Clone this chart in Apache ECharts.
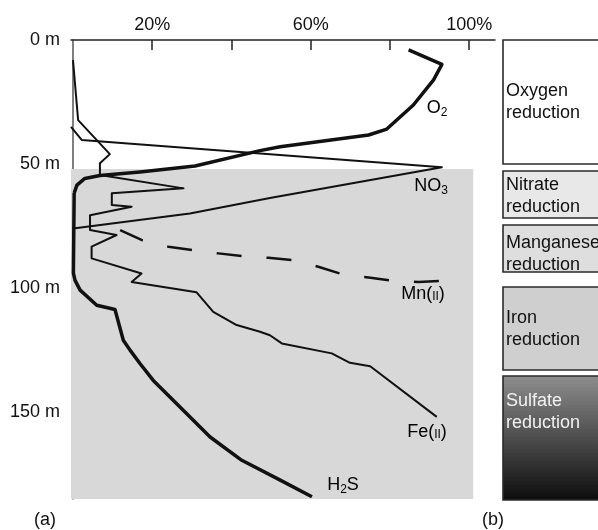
<!DOCTYPE html>
<html>
<head>
<meta charset="utf-8">
<script src="https://cdn.jsdelivr.net/npm/echarts@6/dist/echarts.min.js"></script>
<style>
  html, body { margin: 0; padding: 0; background: #fff; }
  #chart { width: 598px; height: 530px; }
</style>
</head>
<body>
<div id="chart"></div>
<script>
// [percent, depth m]
var o2 = [[84.7, 4], [93.1, 9.8], [91.0, 16.1], [85.9, 26.2], [79.2, 35.9], [74.6, 38.3],
    [52.3, 43.0], [47.2, 44.6], [30.8, 50.8], [16.9, 53.2], [6.8, 54.6], [3.0, 55.8],
    [1.0, 58.5], [0.3, 61.7]];
var h2s = [[0.3, 61.7], [0.1, 94], [0.5, 96.8], [1.8, 100.8], [6.0, 106.9], [10.6, 108.6],
    [12.7, 121], [14.4, 125], [16.9, 130.4], [20.2, 137.1], [27.0, 147.9], [34.6, 160],
    [42.6, 169.4], [52.3, 177.4], [60.3, 184.1]];
var no3 = [[-0.5, 35], [2.2, 40.3], [93.1, 51.3], [49.7, 63.7], [29.5, 69.9], [0.5, 75.9]];
var fe = [[0, 8.1], [1.3, 32.3], [9.3, 46.0], [6.8, 49.7], [6.8, 54.4], [27.9, 59.8],
    [9.8, 61.8], [9.8, 66.5], [14.8, 67.2], [4.3, 70.6], [4.3, 76.6], [11.0, 78.6],
    [4.7, 83.3], [4.7, 88.0], [17.3, 94.1], [14.8, 97.5], [31.2, 101.7], [35.4, 109.6],
    [41.3, 114.9], [47.2, 117.6], [49.7, 119], [52.7, 122.3], [65.3, 126.3], [69.9, 130.1],
    [75.0, 131.5], [91.8, 151.9]];
var mn = [[11.9, 76.6], [17.3, 80.6], [24.1, 83.3], [30.4, 84.7], [36.7, 86.0], [43.0, 87.1],
    [49.3, 87.8], [55.6, 88.7], [61.9, 91.4], [67.9, 94.4], [74.6, 95.7], [80.9, 97.1],
    [87.2, 97.5], [93.5, 97.1]];
var xTicks = [20, 40, 60, 80, 100];
var xLabels = [20, 60, 100];
var depthTicks = [0, 50, 100, 150];
var anoxicTop = 52;   // start of shaded zone, m

var FONT = '"Liberation Sans", Arial, Helvetica, sans-serif';

var myChart = echarts.init(document.getElementById('chart'));

function line(name, data, width, dash) {
    return {
        name: name,
        type: 'line',
        data: data,
        symbol: 'none',
        silent: true,
        z: 3,
        lineStyle: {color: '#111', width: width, type: dash || 'solid', cap: 'butt', join: 'round'}
    };
}

var main = {fontSize: 18, fontFamily: FONT, color: '#111', lineHeight: 22};
var sub = {fontSize: 12, fontFamily: FONT, color: '#111', verticalAlign: 'bottom', lineHeight: 12};
var sc = {fontSize: 12, fontFamily: FONT, color: '#111', verticalAlign: 'bottom', lineHeight: 18, padding: [0, 0, 2, 0]};

function curveLabel(x, y, text) {
    return {
        type: 'text', x: x, y: y, z: 10,
        style: {text: text, align: 'center', verticalAlign: 'middle', rich: {m: main, s: sub, c: sc}}
    };
}

function zoneBox(y, h, fill, lines, textY, color) {
    return [{
        type: 'rect', shape: {x: 503, y: y, width: 120, height: h},
        style: {fill: fill, stroke: '#2a2a2a', lineWidth: 1.6}
    }, {
        type: 'text', x: 506, y: textY,
        style: {text: lines, font: '18px ' + FONT, fill: color || '#111', lineHeight: 22,
            align: 'left', verticalAlign: 'top'}
    }];
}

var sulfateFill = new echarts.graphic.LinearGradient(0, 0, 0, 1, [
    {offset: 0, color: '#8e8e8e'}, {offset: 1, color: '#0c0c0c'}
]);

var graphics = [
    curveLabel(437, 108, '{m|O}{s|2}'),
    curveLabel(431, 186, '{m|NO}{s|3}'),
    curveLabel(423, 294, '{m|Mn(}{c|II}{m|)}'),
    curveLabel(427, 432, '{m|Fe(}{c|II}{m|)}'),
    curveLabel(343, 485, '{m|H}{s|2}{m|S}'),
    {type: 'text', x: 45, y: 520, style: {text: '(a)', font: '18px ' + FONT, fill: '#111', align: 'center', verticalAlign: 'middle'}},
    {type: 'text', x: 493, y: 520, style: {text: '(b)', font: '18px ' + FONT, fill: '#111', align: 'center', verticalAlign: 'middle'}}
]
    .concat(zoneBox(40, 124, '#ffffff', 'Oxygen\nreduction', 80))
    .concat(zoneBox(171, 47, '#e8e8e8', 'Nitrate\nreduction', 174))
    .concat(zoneBox(225, 47, '#dedede', 'Manganese\nreduction', 232))
    .concat(zoneBox(287, 83, '#cfcfcf', 'Iron\nreduction', 307))
    .concat(zoneBox(376, 124, sulfateFill, 'Sulfate\nreduction', 390, '#f2f2f2'));

var option = {
    animation: false,
    backgroundColor: '#fff',
    grid: {left: 71, top: 40, right: 103, bottom: 31},
    xAxis: {
        type: 'value',
        position: 'top',
        min: -0.5,
        max: 106.5,
        splitLine: {show: false},
        axisLine: {show: true, lineStyle: {color: '#222', width: 1.5}},
        axisTick: {show: true, inside: true, length: 10, customValues: xTicks, lineStyle: {color: '#222', width: 1.5}},
        axisLabel: {customValues: xLabels, formatter: '{value}%', margin: 6,
            color: '#111', fontSize: 18, fontFamily: FONT}
    },
    yAxis: {
        type: 'value',
        inverse: true,
        min: 0,
        max: 185,
        splitLine: {show: false},
        axisLine: {show: true, lineStyle: {color: '#555', width: 1.5}},
        axisTick: {show: false},
        axisLabel: {customValues: depthTicks, formatter: '{value} m', margin: 11,
            color: '#111', fontSize: 18, fontFamily: FONT}
    },
    series: [
        {
            type: 'line',
            data: [],
            silent: true,
            markArea: {
                silent: true,
                itemStyle: {color: '#d8d8d8'},
                data: [[{coord: [-0.5, anoxicTop]}, {coord: [101, 185]}]]
            },
            z: 1
        },
        line('O2', o2, 3.5),
        line('H2S', h2s, 3.5),
        line('NO3', no3, 2),
        line('Fe(II)', fe, 2),
        line('Mn(II)', mn, 2.5, [25, 25])
    ],
    graphic: graphics
};

myChart.setOption(option, true);
</script>
</body>
</html>
